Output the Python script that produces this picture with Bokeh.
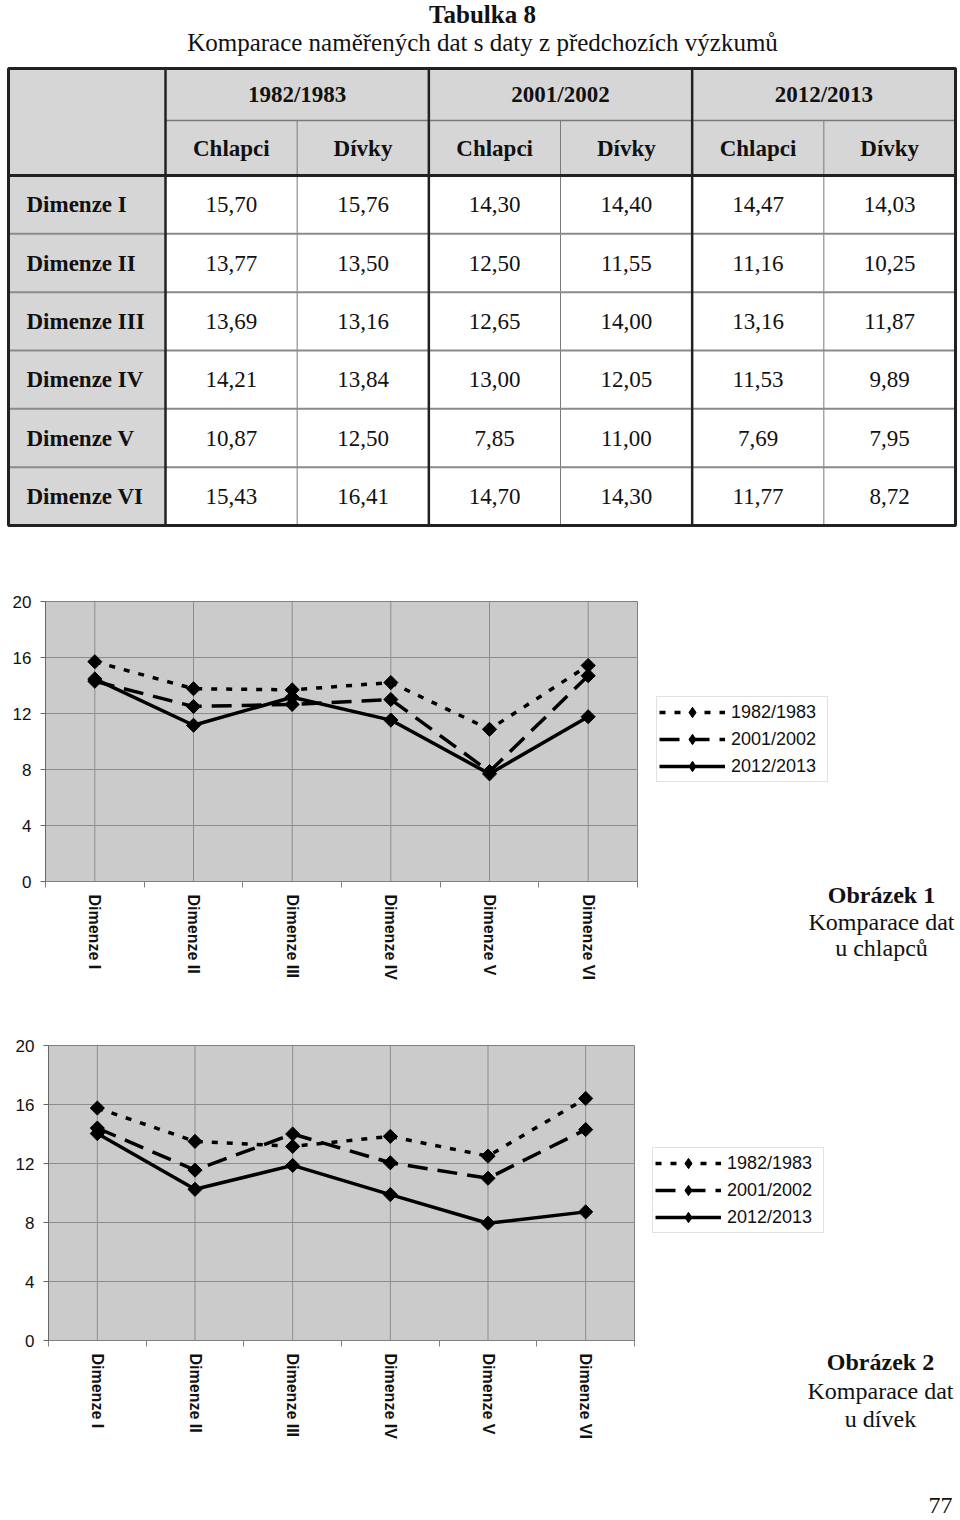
import numpy as np
from bokeh.plotting import figure
from bokeh.models import Range1d, FixedTicker, Legend, LegendItem, Label
from bokeh.layouts import column
from bokeh.embed import file_html
from bokeh.resources import INLINE
from bokeh.core.properties import value

# ---------------- data ----------------
dimensions = ["Dimenze I", "Dimenze II", "Dimenze III", "Dimenze IV", "Dimenze V", "Dimenze VI"]
years = ["1982/1983", "2001/2002", "2012/2013"]
groups = ["Chlapci", "Dívky"]

boys_1982 = [15.70, 13.77, 13.69, 14.21, 10.87, 15.43]
girls_1982 = [15.76, 13.50, 13.16, 13.84, 12.50, 16.41]
boys_2001 = [14.30, 12.50, 12.65, 13.00, 7.85, 14.70]
girls_2001 = [14.40, 11.55, 14.00, 12.05, 11.00, 14.30]
boys_2012 = [14.47, 11.16, 13.16, 11.53, 7.69, 11.77]
girls_2012 = [14.03, 10.25, 11.87, 9.89, 7.95, 8.72]

y_ticks = [0, 4, 8, 12, 16, 20]

table_title = "Tabulka 8"
table_subtitle = "Komparace naměřených dat s daty z předchozích výzkumů"
captions_boys = ["Obrázek 1", "Komparace dat", "u chlapců"]
captions_girls = ["Obrázek 2", "Komparace dat", "u dívek"]
page_number = "77"

SERIF = "Liberation Serif"
SANS = "Liberation Sans"
W = 960

# ---------------- table ----------------
TA_H = 540
ta = figure(width=W, height=TA_H, x_range=Range1d(0, W), y_range=Range1d(TA_H, 0),
            x_axis_location=None, y_axis_location=None, output_backend="svg",
            toolbar_location=None, min_border=0, outline_line_color=None)
ta.grid.visible = False

L, C1, R = 8, 165, 955
T, H1, H2, B = 68, 120, 175, 525
ncols = 6
cw = (R - C1) / ncols
rh = (B - H2) / len(dimensions)
col_edges = [C1 + cw * i for i in range(ncols + 1)]
col_centers = [C1 + cw * (i + 0.5) for i in range(ncols)]
row_centers = [H2 + rh * (r + 0.5) for r in range(len(dimensions))]

gray = "#d6d6d6"
ta.quad(left=[L, L], right=[R, C1], top=[T, H2], bottom=[H2, B], fill_color=gray, line_color=None)

# thin inner lines
ta.segment(x0=[col_edges[1], col_edges[3], col_edges[5]], x1=[col_edges[1], col_edges[3], col_edges[5]],
           y0=[H1] * 3, y1=[B] * 3, line_color="#7a7a7a", line_width=1)
ta.segment(x0=[C1], x1=[R], y0=[H1], y1=[H1], line_color="#7a7a7a", line_width=1.5)
sep_y = [H2 + rh * k for k in range(1, len(dimensions))]
ta.segment(x0=[L] * len(sep_y), x1=[R] * len(sep_y), y0=sep_y, y1=sep_y, line_color="#8a8a8a", line_width=2)
# thick lines
ta.segment(x0=[C1, col_edges[2], col_edges[4]], x1=[C1, col_edges[2], col_edges[4]],
           y0=[T] * 3, y1=[B] * 3, line_color="#222222", line_width=2.5)
ta.segment(x0=[L], x1=[R], y0=[H2], y1=[H2], line_color="#222222", line_width=3)
ta.quad(left=[L], right=[R], top=[T], bottom=[B], fill_color=None, line_color="#222222", line_width=3)

FS = "23px"
# header texts
ta.text(x=[col_centers[2 * g] + cw / 2 for g in range(len(years))], y=[(T + H1) / 2] * len(years), text=years,
        text_font=value(SERIF), text_font_style="bold", text_font_size=FS,
        text_align="center", text_baseline="middle", text_color="#111111")
ta.text(x=col_centers, y=[(H1 + H2) / 2] * ncols, text=groups * len(years),
        text_font=value(SERIF), text_font_style="bold", text_font_size=FS,
        text_align="center", text_baseline="middle", text_color="#111111")
ta.text(x=[L + 18] * len(dimensions), y=row_centers, text=dimensions,
        text_font=value(SERIF), text_font_style="bold", text_font_size=FS,
        text_align="left", text_baseline="middle", text_color="#111111")

table_cols = [boys_1982, girls_1982, boys_2001, girls_2001, boys_2012, girls_2012]
vx, vy, vt = [], [], []
for ci, col in enumerate(table_cols):
    for ri, v in enumerate(col):
        vx.append(col_centers[ci])
        vy.append(row_centers[ri])
        vt.append(f"{v:.2f}".replace(".", ","))
ta.text(x=vx, y=vy, text=vt, text_font=value(SERIF), text_font_size=FS,
        text_align="center", text_baseline="middle", text_color="#111111")

ta.text(x=[482], y=[14], text=[table_title], text_font=value(SERIF), text_font_style="bold",
        text_font_size="25px", text_align="center", text_baseline="middle", text_color="#111111")
ta.text(x=[482], y=[42], text=[table_subtitle], text_font=value(SERIF),
        text_font_size="25px", text_align="center", text_baseline="middle", text_color="#111111")


# ---------------- charts ----------------
def make_chart(series, fig_top, fig_h, pl, pr, pt, pb_, leg_left, leg_bottom, captions, cap_x, cap_ys,
               extra=None):
    n = len(dimensions)
    xs = list(np.arange(n) + 0.5)
    fig_bottom = fig_top + fig_h
    ppc = (pr - pl) / n                      # pixels per category
    ppu = (pb_ - pt) / (y_ticks[-1] - y_ticks[0])   # pixels per y unit
    xr = Range1d(-pl / ppc, (W - pl) / ppc)
    yr = Range1d(y_ticks[0] - (fig_bottom - pb_) / ppu, y_ticks[-1] + (pt - fig_top) / ppu)

    p = figure(width=W, height=fig_h, x_range=xr, y_range=yr, output_backend="svg",
               toolbar_location=None, min_border=0)
    p.background_fill_color = "white"
    p.border_fill_color = "white"
    p.outline_line_color = None
    p.grid.visible = False

    # plot area background and grid lines
    p.quad(left=[0], right=[n], bottom=[y_ticks[0]], top=[y_ticks[-1]], fill_color="#cbcbcb",
           line_color="#808080", line_width=1, level="underlay")
    gy = y_ticks[1:-1]
    p.segment(x0=[0] * len(gy), x1=[n] * len(gy), y0=gy, y1=gy, line_color="#8c8c8c",
              line_width=1, level="underlay")
    p.segment(x0=xs, x1=xs, y0=[y_ticks[0]] * n, y1=[y_ticks[-1]] * n, line_color="#8c8c8c",
              line_width=1, level="underlay")

    p.xaxis.fixed_location = y_ticks[0]
    p.xaxis.bounds = (0, n)
    p.xaxis.ticker = FixedTicker(ticks=xs, minor_ticks=list(range(n + 1)))
    p.xaxis.major_label_overrides = {float(x): d for x, d in zip(xs, dimensions)}
    p.xaxis.major_label_orientation = "vertical"
    p.xaxis.major_tick_line_color = None
    p.xaxis.minor_tick_line_color = "#808080"
    p.xaxis.minor_tick_in = 0
    p.xaxis.minor_tick_out = 6
    p.xaxis.axis_line_color = "#808080"
    p.xaxis.major_label_text_font = SANS
    p.xaxis.major_label_text_font_style = "bold"
    p.xaxis.major_label_text_font_size = "16px"
    p.xaxis.major_label_text_color = "#111111"
    p.xaxis.major_label_standoff = 7

    p.yaxis.fixed_location = 0
    p.yaxis.bounds = (y_ticks[0], y_ticks[-1])
    p.yaxis.ticker = FixedTicker(ticks=y_ticks, minor_ticks=[])
    p.yaxis.major_tick_in = 0
    p.yaxis.major_tick_out = 5
    p.yaxis.major_tick_line_color = "#666666"
    p.yaxis.axis_line_color = "#666666"
    p.yaxis.major_label_text_font = SANS
    p.yaxis.major_label_text_font_size = "17px"
    p.yaxis.major_label_text_color = "#111111"
    p.yaxis.major_label_standoff = 9

    items = []
    for label, vals, dash in series:
        rl = p.line(xs, vals, line_color="black", line_width=3.5, line_dash=dash)
        p.scatter(xs, vals, marker="square", angle=np.pi / 4, size=10,
                  fill_color="black", line_color="black")
        # legend key marker (diamond); its single point is NaN so nothing is drawn in the plot
        rk = p.scatter(x=[np.nan], y=[np.nan], marker="diamond", size=10,
                       fill_color="black", line_color="black")
        items.append(LegendItem(label=label, renderers=[rl, rk]))

    leg = Legend(items=items, location=(leg_left, fig_bottom - leg_bottom), orientation="vertical",
                 border_line_color="#c4c4c4", border_line_width=1,
                 background_fill_color="white", background_fill_alpha=1.0,
                 label_text_font=SANS, label_text_font_size="18px", label_text_color="#111111",
                 glyph_width=66, glyph_height=26, label_height=26, label_width=94, spacing=1,
                 padding=2, margin=0, label_standoff=6)
    p.add_layout(leg)

    for i, (txt, cy) in enumerate(zip(captions, cap_ys)):
        p.add_layout(Label(x=cap_x, y=fig_bottom - cy, x_units="screen", y_units="screen", text=txt,
                           text_font=SERIF, text_font_size="24px",
                           text_font_style="bold" if i == 0 else "normal",
                           text_align="center", text_baseline="middle", text_color="#111111"))
    if extra is not None:
        ex, ey, et = extra
        p.add_layout(Label(x=ex, y=fig_bottom - ey, x_units="screen", y_units="screen", text=et,
                           text_font=SERIF, text_font_size="24px",
                           text_align="center", text_baseline="middle", text_color="#111111"))
    return p


series_boys = [(years[0], boys_1982, "6 9"), (years[1], boys_2001, "20 10"), (years[2], boys_2012, "solid")]
series_girls = [(years[0], girls_1982, "6 9"), (years[1], girls_2001, "20 10"), (years[2], girls_2012, "solid")]

pb = make_chart(series_boys, 540, 460, 45, 637, 601, 881, 656, 782,
                captions_boys, 881, [894, 921, 947])
pg = make_chart(series_girls, 1000, 518, 48, 634, 1045, 1340, 652, 1233,
                captions_girls, 880, [1361, 1390, 1418], extra=(940, 1505, page_number))

layout = column(ta, pb, pg, spacing=0)
open("out.html", "w").write(file_html(layout, INLINE))
